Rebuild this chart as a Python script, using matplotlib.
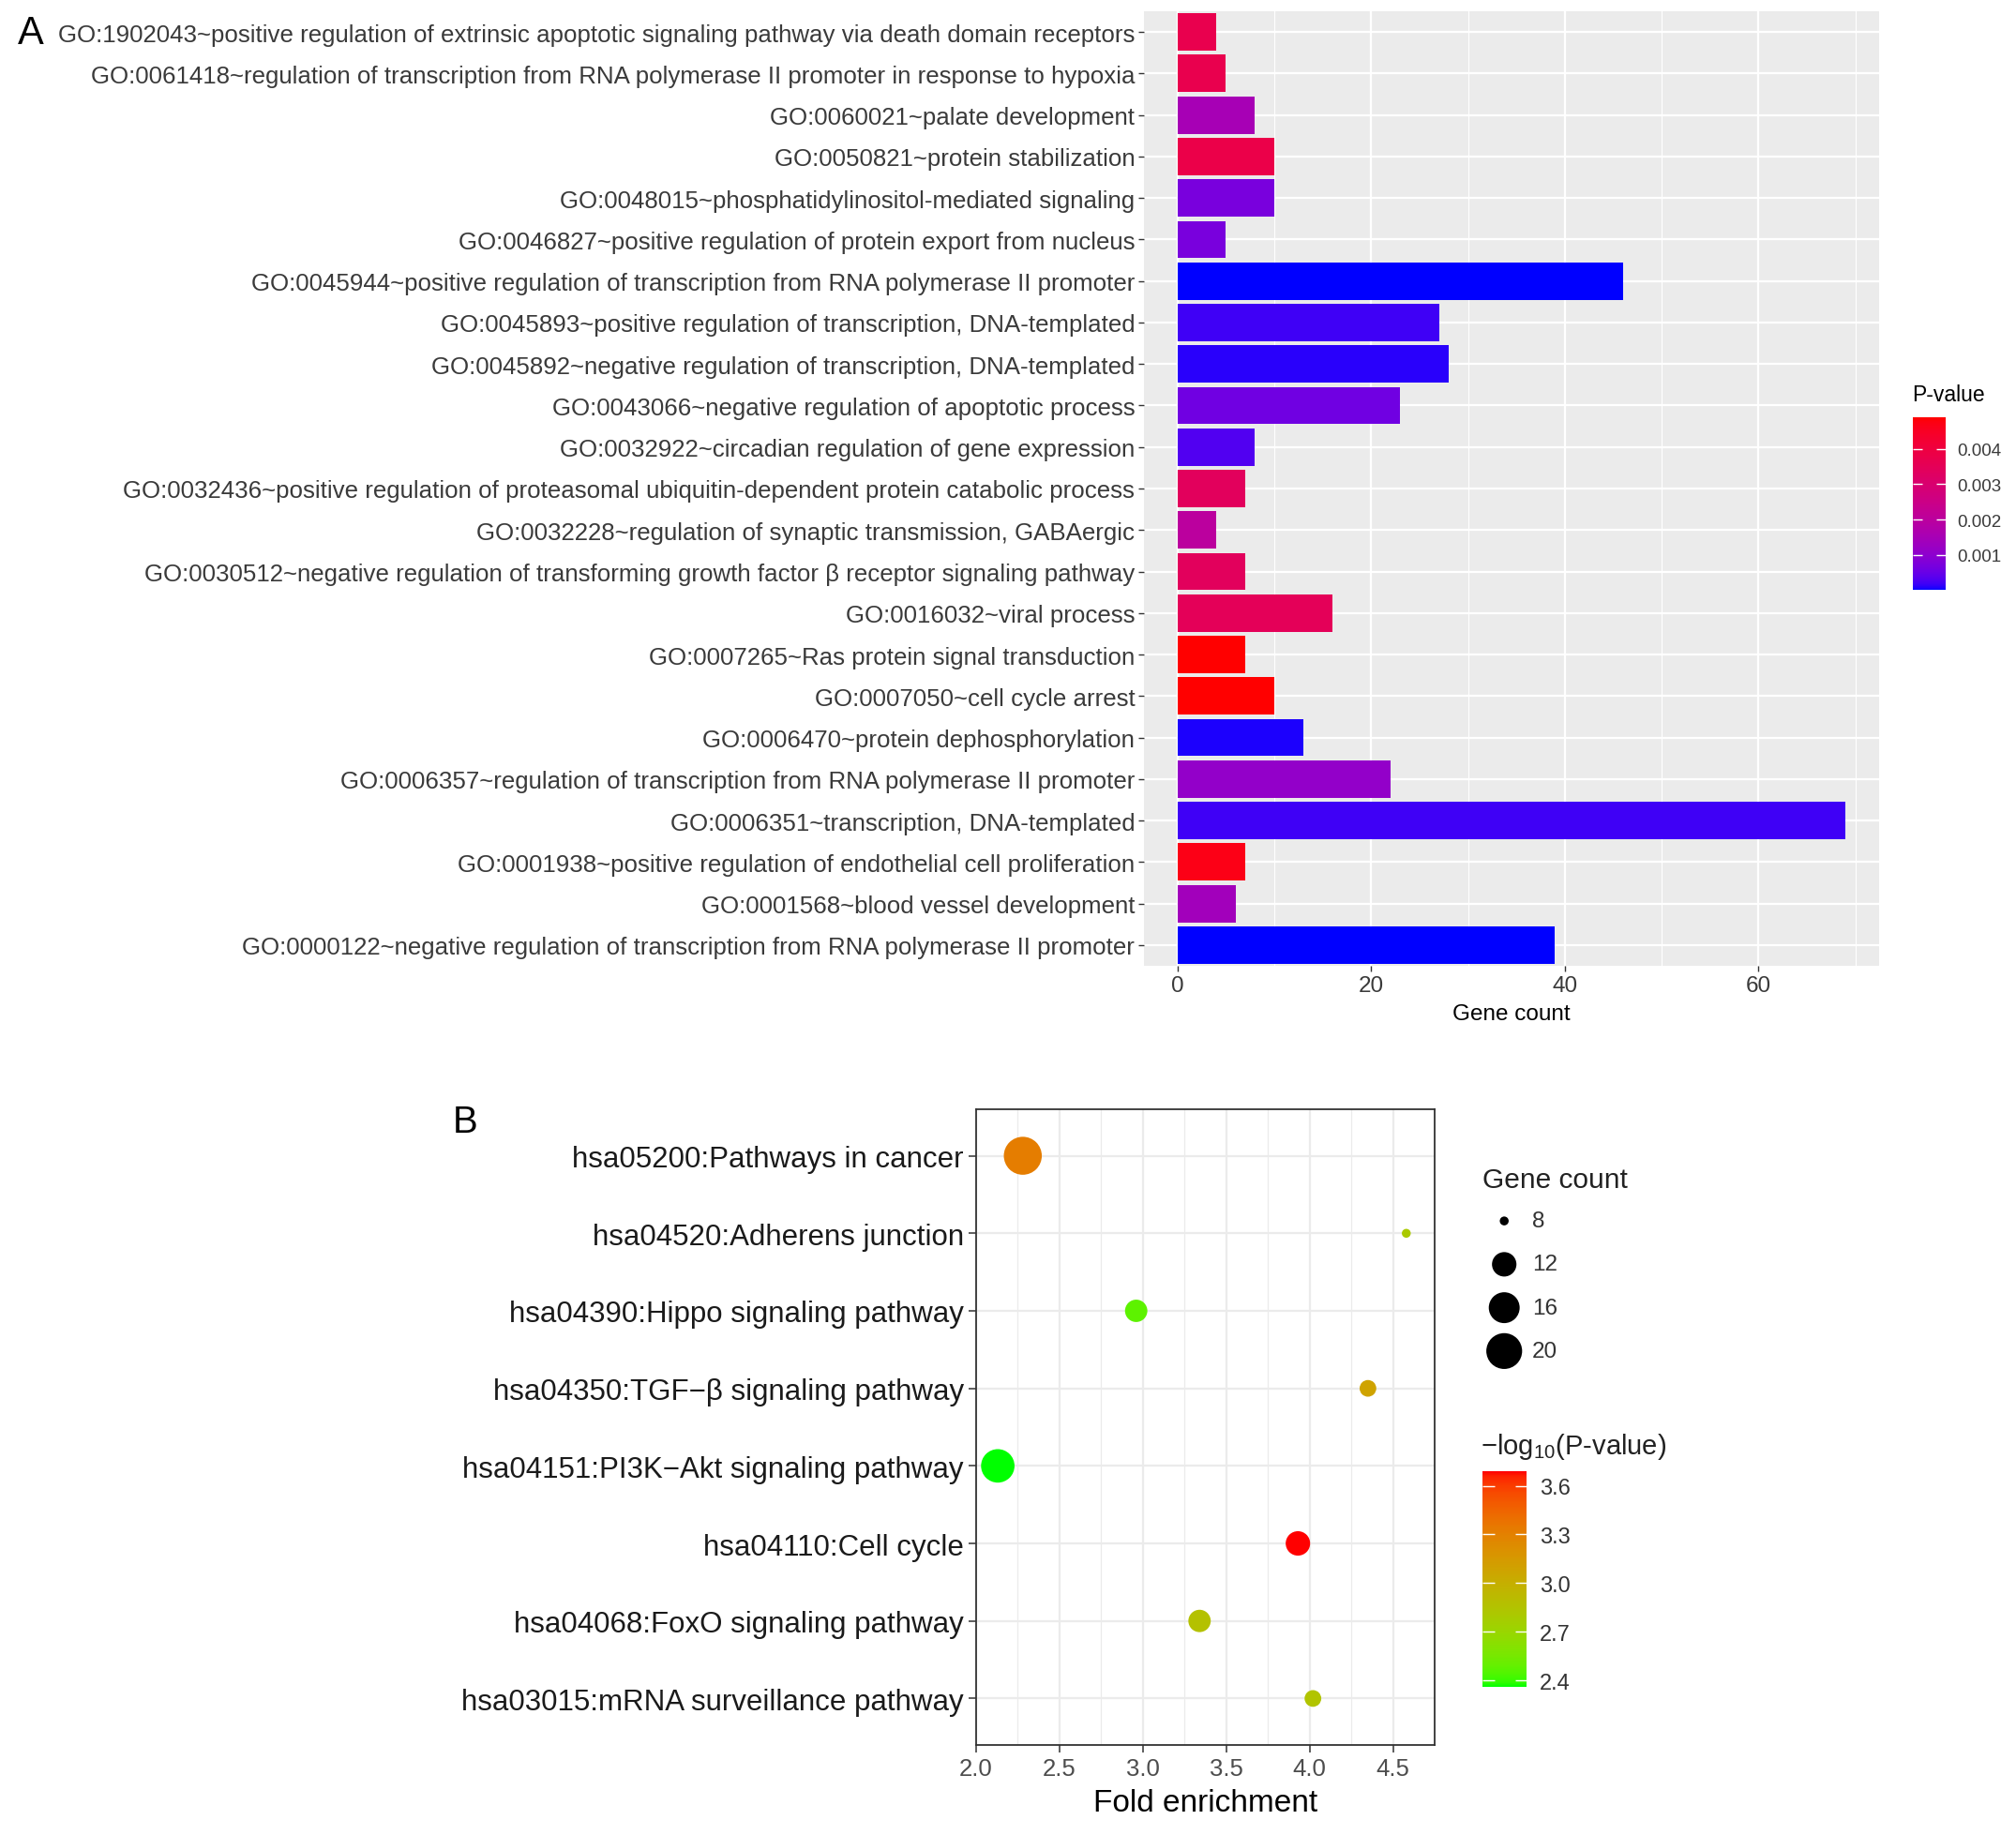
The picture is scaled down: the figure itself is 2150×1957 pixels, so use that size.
import numpy as np
import matplotlib
matplotlib.use('Agg')
import matplotlib.pyplot as plt
from matplotlib.colors import ListedColormap, Normalize, to_rgb
from matplotlib.cm import ScalarMappable

plt.rcParams['font.family'] = ['Liberation Sans', 'DejaVu Sans']
plt.rcParams['mathtext.fontset'] = 'custom'
plt.rcParams['mathtext.rm'] = 'Liberation Sans'
plt.rcParams['mathtext.it'] = 'Liberation Sans:italic'

# ---- panel A: GO terms, top to bottom
go_terms = [
    'GO:1902043~positive regulation of extrinsic apoptotic signaling pathway via death domain receptors',
    'GO:0061418~regulation of transcription from RNA polymerase II promoter in response to hypoxia',
    'GO:0060021~palate development',
    'GO:0050821~protein stabilization',
    'GO:0048015~phosphatidylinositol-mediated signaling',
    'GO:0046827~positive regulation of protein export from nucleus',
    'GO:0045944~positive regulation of transcription from RNA polymerase II promoter',
    'GO:0045893~positive regulation of transcription, DNA-templated',
    'GO:0045892~negative regulation of transcription, DNA-templated',
    'GO:0043066~negative regulation of apoptotic process',
    'GO:0032922~circadian regulation of gene expression',
    'GO:0032436~positive regulation of proteasomal ubiquitin-dependent protein catabolic process',
    'GO:0032228~regulation of synaptic transmission, GABAergic',
    'GO:0030512~negative regulation of transforming growth factor \u03b2 receptor signaling pathway',
    'GO:0016032~viral process',
    'GO:0007265~Ras protein signal transduction',
    'GO:0007050~cell cycle arrest',
    'GO:0006470~protein dephosphorylation',
    'GO:0006357~regulation of transcription from RNA polymerase II promoter',
    'GO:0006351~transcription, DNA-templated',
    'GO:0001938~positive regulation of endothelial cell proliferation',
    'GO:0001568~blood vessel development',
    'GO:0000122~negative regulation of transcription from RNA polymerase II promoter',
]
go_counts = [4, 5, 8, 10, 10, 5, 46, 27, 28, 23, 8, 7, 4, 7, 16, 7, 10, 13, 22, 69, 7, 6, 39]
go_pvalues = [0.0037, 0.0037, 0.0015, 0.0038, 0.0007, 0.0007, 0.00001, 0.0002, 0.0001,
              0.0006, 0.0003, 0.0034, 0.0020, 0.0034, 0.0035, 0.0049, 0.0049, 0.00005,
              0.0011, 0.0002, 0.0047, 0.0014, 0.00002]
go_xticks = [0, 20, 40, 60]
pval_ticks = [0.001, 0.002, 0.003, 0.004]

# ---- panel B: KEGG pathways, top to bottom
kegg_terms = [
    'hsa05200:Pathways in cancer',
    'hsa04520:Adherens junction',
    'hsa04390:Hippo signaling pathway',
    'hsa04350:TGF\u2212\u03b2 signaling pathway',
    'hsa04151:PI3K\u2212Akt signaling pathway',
    'hsa04110:Cell cycle',
    'hsa04068:FoxO signaling pathway',
    'hsa03015:mRNA surveillance pathway',
]
kegg_fold = [2.28, 4.58, 2.96, 4.35, 2.13, 3.93, 3.34, 4.02]
kegg_counts = [22, 8, 11, 9, 18, 12, 11, 9]
kegg_logp = [3.32, 2.80, 2.47, 3.08, 2.36, 3.69, 2.86, 2.84]
size_breaks = [8, 12, 16, 20]
logp_ticks = [2.4, 2.7, 3.0, 3.3, 3.6]

W, H = 2150, 1958


def box(x0, y0, x1, y1):
    # pixel box (top-left origin) -> figure fraction rect
    return [x0 / W, 1 - y1 / H, (x1 - x0) / W, (y1 - y0) / H]


M = np.array([[0.4124, 0.3576, 0.1805],
              [0.2126, 0.7152, 0.0722],
              [0.0193, 0.1192, 0.9505]])
WHITE = np.array([0.95047, 1.0, 1.08883])


def to_lab(c):
    c = np.asarray(to_rgb(c), float)
    lin = np.where(c > 0.04045, ((c + 0.055) / 1.055) ** 2.4, c / 12.92)
    xyz = M @ lin / WHITE
    f = np.where(xyz > 0.008856, np.cbrt(xyz), 7.787 * xyz + 16 / 116)
    return np.array([116 * f[1] - 16, 500 * (f[0] - f[1]), 200 * (f[1] - f[2])])


def from_lab(lab):
    fy = (lab[0] + 16) / 116
    f = np.array([fy + lab[1] / 500, fy, fy - lab[2] / 200])
    xyz = np.where(f > 0.2069, f ** 3, (f - 16 / 116) / 7.787) * WHITE
    lin = np.clip(np.linalg.solve(M, xyz), 0, 1)
    return np.where(lin > 0.0031308, 1.055 * lin ** (1 / 2.4) - 0.055, 12.92 * lin)


def lab_gradient(low, high, n=256):
    # ggplot-like two colour gradient, interpolated in Lab space
    a, b = to_lab(low), to_lab(high)
    cols = [from_lab(a + (b - a) * t) for t in np.linspace(0, 1, n)]
    return ListedColormap(np.clip(cols, 0, 1))


fig = plt.figure(figsize=(W / 100, H / 100), dpi=100)

# ================= panel A =================
axA = fig.add_axes(box(1220, 13, 2004, 1031))
nA = len(go_terms)
yA = np.arange(nA)
cmapA = lab_gradient('blue', 'red')
normA = Normalize(min(go_pvalues), max(go_pvalues))
axA.set_facecolor('#EBEBEB')
axA.barh(yA, go_counts, height=0.9, color=cmapA(normA(go_pvalues)), zorder=3)
xmax = max(go_counts)
axA.set_xlim(-0.05 * xmax, 1.05 * xmax)
axA.set_ylim(nA - 0.5, -0.5)
axA.set_xticks(go_xticks)
axA.set_xticks([10, 30, 50, 70], minor=True)
axA.set_yticks(yA)
axA.set_yticklabels(go_terms)
axA.grid(which='major', color='white', lw=1.6, zorder=0)
axA.grid(which='minor', axis='x', color='white', lw=0.8, zorder=0)
axA.set_axisbelow(True)
for s in axA.spines.values():
    s.set_visible(False)
axA.tick_params(which='major', length=4.5, width=1, color='#333333',
                labelsize=18.6, labelcolor='#3A3A3A', pad=2.5)
axA.tick_params(axis='x', labelsize=17.5)
axA.tick_params(which='minor', length=0)
axA.set_xlabel('Gene count', fontsize=17.5, labelpad=6)
fig.text(33 / W, 1 - 36 / H, 'A', fontsize=30, ha='center', va='center')

caxA = fig.add_axes(box(2040, 446, 2075, 630))
cbA = fig.colorbar(ScalarMappable(normA, cmapA), cax=caxA, ticks=pval_ticks)
cbA.outline.set_visible(False)
caxA.tick_params(direction='in', length=7, width=1, color='white', left=True, right=True,
                 labelsize=13.5, labelcolor='#3A3A3A', pad=9)
caxA.set_yticklabels([f'{t:.3f}' for t in pval_ticks])
fig.text(2039 / W, 1 - 422 / H, 'P-value', fontsize=16.5, ha='left', va='center')

# ================= panel B =================
axB = fig.add_axes(box(1041, 1184, 1530, 1862))
nB = len(kegg_terms)
yB = np.arange(nB)
cmapB = lab_gradient('#00FF00', 'red')
normB = Normalize(min(kegg_logp), max(kegg_logp))

cmin, cmax = min(kegg_counts), max(kegg_counts)
dmin, dmax = 9.5, 40.5   # point diameter range in pixels


def point_area(c):
    d = dmin + (dmax - dmin) * np.sqrt((np.asarray(c, float) - cmin) / (cmax - cmin))
    return (d * 72 / 100) ** 2


axB.scatter(kegg_fold, yB, s=point_area(kegg_counts), c=kegg_logp, cmap=cmapB,
            norm=normB, edgecolors='none', zorder=3)
lo, hi = min(kegg_fold), max(kegg_fold)
axB.set_xlim(lo - 0.05 * (hi - lo), hi + 0.05 * (hi - lo))
axB.set_ylim(nB - 0.4, -0.6)
axB.set_xticks(np.arange(2.0, 4.51, 0.5))
axB.set_xticks(np.arange(2.25, 4.76, 0.5), minor=True)
axB.set_xticklabels([f'{t:.1f}' for t in np.arange(2.0, 4.51, 0.5)])
axB.set_yticks(yB)
axB.set_yticklabels(kegg_terms)
axB.grid(which='major', color='#EBEBEB', lw=1.6, zorder=0)
axB.grid(which='minor', axis='x', color='#EBEBEB', lw=0.9, zorder=0)
axB.set_axisbelow(True)
for s in axB.spines.values():
    s.set_color('#333333')
    s.set_linewidth(1.3)
axB.tick_params(which='major', length=5.5, width=1.1, color='#333333', pad=4)
axB.tick_params(which='minor', length=0)
axB.tick_params(axis='y', labelsize=22.5, labelcolor='#1A1A1A')
axB.tick_params(axis='x', labelsize=18.5, labelcolor='#4D4D4D')
axB.set_xlabel('Fold enrichment', fontsize=24, labelpad=6)
fig.text(496 / W, 1 - 1197 / H, 'B', fontsize=29, ha='center', va='center')

# size legend
lax = fig.add_axes(box(1580, 1280, 1690, 1465))
lax.axis('off')
lax.set_xlim(0, 1)
lax.set_ylim(len(size_breaks) - 0.5, -0.5)
lax.scatter(np.full(len(size_breaks), 0.22), np.arange(len(size_breaks)),
            s=point_area(size_breaks), color='black', edgecolors='none')
for i, b in enumerate(size_breaks):
    lax.text(0.49, i, str(b), fontsize=17.5, va='center', ha='left', color='#333333')
fig.text(1581 / W, 1 - 1259 / H, 'Gene count', fontsize=21.5, ha='left', va='center',
         color='#222222')

caxB = fig.add_axes(box(1581, 1570, 1628, 1800))
cbB = fig.colorbar(ScalarMappable(normB, cmapB), cax=caxB, ticks=logp_ticks)
cbB.outline.set_visible(False)
caxB.tick_params(direction='in', length=9, width=1, color='white', left=True, right=True,
                 labelsize=17, labelcolor='#333333', pad=10)
caxB.set_yticklabels([f'{t:.1f}' for t in logp_ticks])
fig.text(1579 / W, 1 - 1543 / H, r'$-\mathrm{log}_{10}\mathrm{(P\text{-}value)}$',
         fontsize=21, ha='left', va='center', color='#222222')

fig.savefig('out.png', dpi=100, facecolor='white')
